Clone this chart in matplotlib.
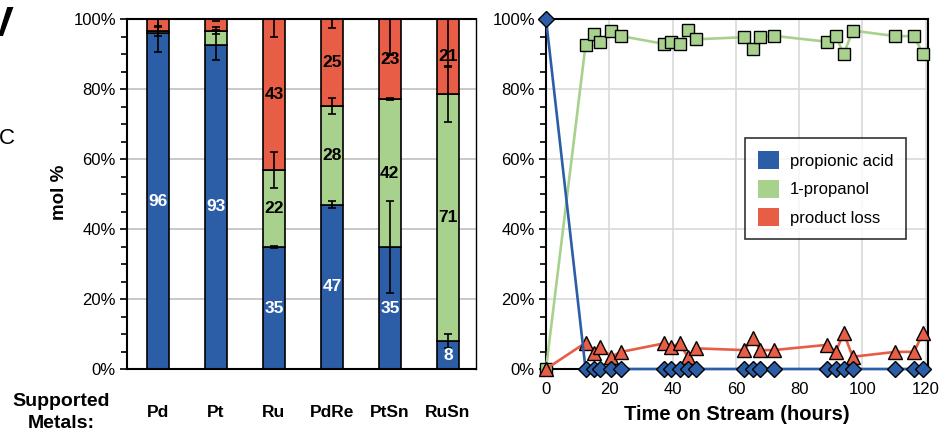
import matplotlib
matplotlib.use("Agg")
import matplotlib.pyplot as plt
from matplotlib.ticker import MultipleLocator, PercentFormatter
from matplotlib.patches import Patch
import numpy as np

plt.rcParams['font.family'] = ['Liberation Sans', 'DejaVu Sans']

# ---------------- data: left panel (stacked bars) ----------------
metals = ["Pd", "Pt", "Ru", "PdRe", "PtSn", "RuSn"]
acid = [95.9, 92.6, 34.8, 46.9, 34.8, 8.0]
propanol = [0.6, 4.1, 22.1, 28.2, 42.3, 70.6]
loss = [3.5, 3.3, 43.1, 24.9, 22.9, 21.4]
acid_err = [5.4, 4.3, 0.3, 1.0, 13.2, 2.0]
propanol_err = [1.3, 1.1, 5.2, 2.2, 0.3, 8.1]
loss_err = [2.0, 0.5, 5.0, 2.7, 10.4, 13.6]
acid_lbl = ["96", "93", "35", "47", "35", "8"]
propanol_lbl = ["", "", "22", "28", "42", "71"]
loss_lbl = ["", "", "43", "25", "23", "21"]

# ---------------- data: right panel (time on stream) ----------------
hours = [0, 12.5, 15.3, 17.2, 20.5, 23.8, 37.2, 39.5, 42.2, 44.8, 47.5,
         62.5, 65.4, 67.7, 71.9, 88.8, 91.5, 94.1, 96.9, 110.4, 116.3, 119.1]
acid_t = [100, 0, 0, 0, 0, 0, 0, 0, 0, 0, 0,
          0, 0, 0, 0, 0, 0, 0, 0, 0, 0, 0]
propanol_t = [0, 92.6, 95.6, 93.5, 96.6, 95.1, 92.9, 93.5, 92.9, 97.0, 94.2,
              94.8, 91.3, 94.8, 95.2, 93.5, 95.1, 90.0, 96.7, 95.1, 95.1, 90.0]
loss_t = [0, 7.5, 4.5, 6.4, 3.5, 4.9, 7.3, 6.4, 7.3, 3.5, 5.9,
          5.4, 8.8, 5.4, 5.4, 6.9, 4.9, 10.2, 3.5, 4.9, 4.9, 10.2]

series_names = ["propionic acid", "1-propanol", "product loss"]

BLUE = "#2C5EA8"
GREEN = "#A9D18E"
RED = "#E85D45"
GREEN_LINE = "#A9D18E"

fig = plt.figure(figsize=(9.42, 4.33), dpi=100)

# ---------------- left panel ----------------
axL = fig.add_axes([127/942, 1-369/433, (476-127)/942, 350/433])
x = np.arange(len(metals))
w = 0.38
acid_a = np.array(acid); prop_a = np.array(propanol); loss_a = np.array(loss)
bar_kw = dict(width=w, edgecolor="black", linewidth=1.2, zorder=2)
axL.bar(x, acid_a, color=BLUE, **bar_kw)
axL.bar(x, prop_a, bottom=acid_a, color=GREEN, **bar_kw)
axL.bar(x, loss_a, bottom=acid_a + prop_a, color=RED, **bar_kw)

err_kw = dict(fmt="none", ecolor="black", elinewidth=1.2, capsize=3, capthick=1.2, zorder=3)
axL.errorbar(x, acid_a, yerr=acid_err, **err_kw)
axL.errorbar(x, acid_a + prop_a, yerr=propanol_err, **err_kw)
axL.errorbar(x, acid_a + prop_a + loss_a, yerr=loss_err, **err_kw)

for i in range(len(metals)):
    if acid_lbl[i]:
        axL.text(x[i], acid_a[i] / 2, acid_lbl[i], ha="center", va="center",
                 color="white", fontsize=12.5, fontweight="bold", zorder=4)
    if propanol_lbl[i]:
        axL.text(x[i], acid_a[i] + prop_a[i] / 2, propanol_lbl[i], ha="center", va="center",
                 color="black", fontsize=12.5, fontweight="bold", zorder=4)
    if loss_lbl[i]:
        axL.text(x[i], acid_a[i] + prop_a[i] + loss_a[i] / 2, loss_lbl[i], ha="center",
                 va="center", color="black", fontsize=12.5, fontweight="bold", zorder=4)

axL.set_xlim(-0.535, 5.485)
axL.set_ylim(0, 100)
axL.yaxis.set_major_locator(MultipleLocator(20))
axL.yaxis.set_minor_locator(MultipleLocator(5))
axL.yaxis.set_major_formatter(PercentFormatter(decimals=0))
axL.grid(axis="y", color="#BFBFBF", linewidth=1.2, zorder=0)
axL.set_axisbelow(True)
axL.set_xticks(x)
axL.set_xticklabels(metals, fontsize=12.5, fontweight="bold")
axL.tick_params(axis="x", length=0, pad=26)
axL.tick_params(axis="y", which="major", length=5, width=1.2, labelsize=12, pad=3)
axL.tick_params(axis="y", which="minor", length=4, width=1.2)
for s in axL.spines.values():
    s.set_linewidth(1.5)
axL.spines["right"].set_linewidth(1.0)

fig.text(60/942, 1-192/433, "mol %", rotation=90, ha="center", va="center",
         fontsize=13.5, fontweight="bold")
fig.text(61/942, 1-402/433, "Supported", ha="center", va="center",
         fontsize=14, fontweight="bold")
fig.text(61/942, 1-423/433, "Metals:", ha="center", va="center",
         fontsize=14, fontweight="bold")

# cut-off panel letters from neighbouring figure
fig.text(-14/942, 1-25/433, "V", ha="left", va="center", fontsize=30, fontweight="bold")
fig.text(-1/942, 1-139/433, "C", ha="left", va="center", fontsize=16)

# ---------------- right panel ----------------
axR = fig.add_axes([546/942, 1-369/433, (928-546)/942, 350/433])
axR.plot(hours, acid_t, color=BLUE, linewidth=1.9, marker="D", markersize=8,
         markerfacecolor=BLUE, markeredgecolor="black", markeredgewidth=1.0,
         clip_on=False, zorder=5)
axR.plot(hours, propanol_t, color=GREEN_LINE, linewidth=1.9, marker="s", markersize=8.3,
         markerfacecolor=GREEN, markeredgecolor="black", markeredgewidth=1.0,
         clip_on=False, zorder=3)
axR.plot(hours, loss_t, color=RED, linewidth=1.9, marker="^", markersize=10,
         markerfacecolor=RED, markeredgecolor="black", markeredgewidth=1.0,
         clip_on=False, zorder=4)

axR.set_xlim(0, 120.7)
axR.set_ylim(0, 100)
axR.xaxis.set_major_locator(MultipleLocator(20))
axR.yaxis.set_major_locator(MultipleLocator(20))
axR.yaxis.set_minor_locator(MultipleLocator(5))
axR.yaxis.set_major_formatter(PercentFormatter(decimals=0))
axR.grid(True, color="#D9D9D9", linewidth=1.2, zorder=0)
axR.set_axisbelow(True)
axR.tick_params(axis="x", length=0, labelsize=12, pad=9)
axR.tick_params(axis="y", which="major", length=5, width=1.2, labelsize=12, pad=3)
axR.tick_params(axis="y", which="minor", length=4, width=1.2)
axR.set_xlabel("Time on Stream (hours)", fontsize=14.5, fontweight="bold", labelpad=6)
for s in axR.spines.values():
    s.set_linewidth(1.5)

handles = [Patch(facecolor=BLUE, edgecolor="none"),
           Patch(facecolor=GREEN, edgecolor="none"),
           Patch(facecolor=RED, edgecolor="none")]
leg = axR.legend(handles, series_names, loc="upper left", bbox_to_anchor=(0.521, 0.659),
                 fontsize=12, frameon=True, fancybox=False, edgecolor="black",
                 handlelength=1.26, handleheight=1.3, labelspacing=0.63,
                 borderpad=0.75, handletextpad=0.7, borderaxespad=0)
leg.get_frame().set_linewidth(1.2)
leg.set_zorder(10)

fig.savefig("out.png", dpi=100)
